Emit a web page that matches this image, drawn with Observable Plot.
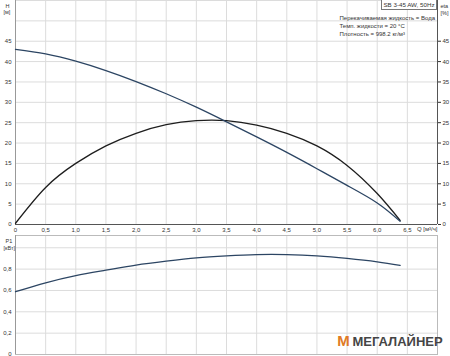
<!DOCTYPE html>
<html><head><meta charset="utf-8">
<script src="https://cdn.jsdelivr.net/npm/d3@7"></script>
<script src="https://cdn.jsdelivr.net/npm/@observablehq/plot@0.6"></script>
<style>
body{margin:0;background:#fff;}
#c{position:relative;width:450px;height:356px;overflow:hidden;font-family:"Liberation Sans",Arial,sans-serif;}
#c svg{position:absolute;left:0;}
#box{position:absolute;left:381px;top:-1px;width:54px;height:9px;border:1px solid #777;font-size:6.2px;line-height:9px;color:#333;text-align:center;background:#fff;white-space:nowrap;z-index:2;}
</style></head><body><div id="c"><div id="box"></div></div>
<script>
// Flow Q [m³/h]
const q    = [0, 0.5, 1.0, 1.5, 2.0, 2.5, 3.0, 3.5, 4.0, 4.5, 5.0, 5.5, 6.0, 6.38];
// Head H [m]
const head = [43.0, 41.9, 40.1, 37.8, 35.1, 32.1, 28.8, 25.2, 21.5, 17.7, 13.7, 9.6, 5.3, 0.8];
// Efficiency eta [%]
const eta  = [0.3, 9.1, 15.0, 19.3, 22.4, 24.5, 25.5, 25.5, 24.4, 22.4, 19.3, 14.5, 7.6, 1.0];
// Power input P1 [kW]
const p1   = [0.588, 0.672, 0.74, 0.79, 0.837, 0.874, 0.905, 0.924, 0.936, 0.936, 0.924, 0.9, 0.868, 0.835];

const xTicks = [0, 0.5, 1.0, 1.5, 2.0, 2.5, 3.0, 3.5, 4.0, 4.5, 5.0, 5.5, 6.0, 6.5];
const xGrid = [...xTicks, 7.0];
const hTicks = [0, 5, 10, 15, 20, 25, 30, 35, 40, 45];
const hGrid = [0, 5, 10, 15, 20, 25, 30, 35, 40, 45, 50, 55];
const pTicks = [0, 0.2, 0.4, 0.6, 0.8];
const pGrid = [0, 0.2, 0.4, 0.6, 0.8, 1.0];

const title = "SB 3-45 AW, 50Hz";
const infoLines = ["Перекачиваемая жидкость = Вода", "Темп. жидкости = 20 °C", "Плотность = 998.2 кг/м³"];

const rows = q.map((v, i) => ({q: v, h: head[i], eta: eta[i], p1: p1[i]}));
const fmt = d => d === 0 ? "0" : d.toFixed(1).replace(".", ",");
const style = {fontFamily: "Liberation Sans, Arial, sans-serif", fontSize: "6px", color: "#333", background: "transparent"};
const gridC = "#dcdcdc";

document.getElementById("box").textContent = title;

const topPlot = Plot.plot({
  width: 450, height: 235, marginLeft: 15, marginRight: 13, marginTop: 0, marginBottom: 11,
  style,
  x: {domain: [0, 7]},
  y: {domain: [0, 55]},
  marks: [
    Plot.gridX(xGrid, {stroke: gridC, strokeOpacity: 1}),
    Plot.gridY(hGrid, {stroke: gridC, strokeOpacity: 1}),
    Plot.ruleX([0], {stroke: "#999"}),
    Plot.ruleX([7], {stroke: "#555"}),
    Plot.ruleY([0], {stroke: "#555", strokeWidth: 1.2}),
    Plot.axisX(xTicks, {tickSize: 0, tickPadding: 3, tickFormat: fmt, label: null}),
    Plot.axisY(hTicks, {anchor: "left", tickSize: 0, tickPadding: 4, label: null}),
    Plot.axisY(hTicks, {anchor: "right", tickSize: 3, tickPadding: 2, label: null}),
    Plot.line(rows, {x: "q", y: "eta", curve: "natural", stroke: "#1e1e1e", strokeWidth: 1.3}),
    Plot.line(rows, {x: "q", y: "h", curve: "natural", stroke: "#2c4563", strokeWidth: 1.3}),
    Plot.text(["H"], {frameAnchor: "top-left", textAnchor: "start", dx: -10, dy: 4, fontSize: 5.5}),
    Plot.text(["[м]"], {frameAnchor: "top-left", textAnchor: "start", dx: -12, dy: 10, fontSize: 5.5}),
    Plot.text(["eta"], {frameAnchor: "top-right", textAnchor: "start", dx: 3, dy: 4, fontSize: 5.5}),
    Plot.text(["[%]"], {frameAnchor: "top-right", textAnchor: "start", dx: 3, dy: 11, fontSize: 5.5}),
    Plot.text([infoLines[0]], {frameAnchor: "top-right", textAnchor: "start", dx: -98, dy: 15}),
    Plot.text([infoLines[1]], {frameAnchor: "top-right", textAnchor: "start", dx: -98, dy: 23}),
    Plot.text([infoLines[2]], {frameAnchor: "top-right", textAnchor: "start", dx: -98, dy: 31}),
    Plot.text(["Q [м³/ч]"], {frameAnchor: "bottom-right", textAnchor: "end", dx: 0, dy: 6.5})
  ]
});
topPlot.style.top = "0px";

const botPlot = Plot.plot({
  width: 450, height: 121, marginLeft: 15, marginRight: 13, marginTop: 0, marginBottom: 2,
  style,
  x: {domain: [0, 7], axis: null},
  y: {domain: [0, 1.115]},
  marks: [
    Plot.gridX(xGrid, {stroke: gridC, strokeOpacity: 1}),
    Plot.gridY(pGrid, {stroke: gridC, strokeOpacity: 1}),
    Plot.frame({stroke: "#bbb"}),
    Plot.ruleX([0], {stroke: "#999"}),
    Plot.axisY(pTicks, {anchor: "left", tickSize: 0, tickPadding: 4, tickFormat: fmt, label: null}),
    Plot.line(rows, {x: "q", y: "p1", curve: "natural", stroke: "#2c4563", strokeWidth: 1.3}),
    Plot.text(["P1"], {frameAnchor: "top-left", textAnchor: "start", dx: -10, dy: 4, fontSize: 5.5}),
    Plot.text(["[кВт]"], {frameAnchor: "top-left", textAnchor: "start", dx: -12, dy: 11, fontSize: 5.5}),
    Plot.text(["М"], {frameAnchor: "bottom-right", textAnchor: "middle", dx: -94, dy: -9, fontSize: 15, fontWeight: "bold", fill: "#e07b25"}),
    Plot.text(["МЕГАЛАЙНЕР"], {frameAnchor: "bottom-right", textAnchor: "start", dx: -85, dy: -9, fontSize: 13, fontWeight: "bold", fill: "#454545"})
  ]
});
botPlot.style.top = "235px";

const c = document.getElementById("c");
c.insertBefore(botPlot, c.firstChild);
c.insertBefore(topPlot, c.firstChild);
</script>
</body></html>
